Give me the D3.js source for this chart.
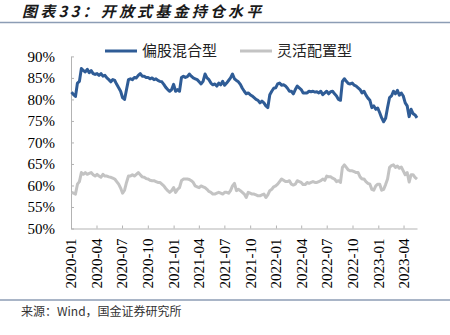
<!DOCTYPE html>
<html>
<head>
<meta charset="utf-8">
<script src="https://cdn.jsdelivr.net/npm/d3@7"></script>
<style>
  html, body { margin: 0; padding: 0; background: #fff; }
  svg { display: block; }
</style>
</head>
<body>
<svg id="chart" width="450" height="335"></svg>
<script>
// Weekly observation dates (Fridays)
const dates = [
  "2020-01-03","2020-01-10","2020-01-17","2020-01-24","2020-01-31","2020-02-07","2020-02-14","2020-02-21","2020-02-28",
  "2020-03-06","2020-03-13","2020-03-20","2020-03-27","2020-04-03","2020-04-10","2020-04-17","2020-04-24",
  "2020-05-01","2020-05-08","2020-05-15","2020-05-22","2020-05-29","2020-06-05","2020-06-12","2020-06-19","2020-06-26",
  "2020-07-03","2020-07-10","2020-07-17","2020-07-24","2020-07-31","2020-08-07","2020-08-14","2020-08-21","2020-08-28",
  "2020-09-04","2020-09-11","2020-09-18","2020-09-25","2020-10-02","2020-10-09","2020-10-16","2020-10-23","2020-10-30",
  "2020-11-06","2020-11-13","2020-11-20","2020-11-27","2020-12-04","2020-12-11","2020-12-18","2020-12-25",
  "2021-01-01","2021-01-08","2021-01-15","2021-01-22","2021-01-29","2021-02-05","2021-02-12","2021-02-19","2021-02-26",
  "2021-03-05","2021-03-12","2021-03-19","2021-03-26","2021-04-02","2021-04-09","2021-04-16","2021-04-23","2021-04-30",
  "2021-05-07","2021-05-14","2021-05-21","2021-05-28","2021-06-04","2021-06-11","2021-06-18","2021-06-25",
  "2021-07-02","2021-07-09","2021-07-16","2021-07-23","2021-07-30","2021-08-06","2021-08-13","2021-08-20","2021-08-27",
  "2021-09-03","2021-09-10","2021-09-17","2021-09-24","2021-10-01","2021-10-08","2021-10-15","2021-10-22","2021-10-29",
  "2021-11-05","2021-11-12","2021-11-19","2021-11-26","2021-12-03","2021-12-10","2021-12-17","2021-12-24","2021-12-31",
  "2022-01-07","2022-01-14","2022-01-21","2022-01-28","2022-02-04","2022-02-11","2022-02-18","2022-02-25",
  "2022-03-04","2022-03-11","2022-03-18","2022-03-25","2022-04-01","2022-04-08","2022-04-15","2022-04-22","2022-04-29",
  "2022-05-06","2022-05-13","2022-05-20","2022-05-27","2022-06-03","2022-06-10","2022-06-17","2022-06-24",
  "2022-07-01","2022-07-08","2022-07-15","2022-07-22","2022-07-29","2022-08-05","2022-08-12","2022-08-19","2022-08-26",
  "2022-09-02","2022-09-09","2022-09-16","2022-09-23","2022-09-30","2022-10-07","2022-10-14","2022-10-21","2022-10-28",
  "2022-11-04","2022-11-11","2022-11-18","2022-11-25","2022-12-02","2022-12-09","2022-12-16","2022-12-23","2022-12-30",
  "2023-01-06","2023-01-13","2023-01-20","2023-01-27","2023-02-03","2023-02-10","2023-02-17","2023-02-24",
  "2023-03-03","2023-03-10","2023-03-17","2023-03-24","2023-03-31","2023-04-07","2023-04-14","2023-04-21","2023-04-28",
  "2023-05-05","2023-05-12","2023-05-19"
];

// 偏股混合型 equity position (%)
const mixedEquity = [
  81.7,81.1,80.7,83.8,84.2,87.2,86.7,86.4,87.0,86.2,86.7,86.0,85.8,86.0,85.6,86.0,85.4,85.6,85.0,84.6,
  84.1,84.6,84.4,83.5,82.7,81.9,80.4,80.0,82.3,84.6,84.8,84.6,85.1,85.0,85.6,86.0,85.4,85.4,85.1,85.1,
  84.8,85.0,84.6,84.8,84.4,84.2,84.1,83.5,82.8,82.3,81.9,82.3,83.5,81.9,82.3,81.9,85.1,85.4,85.1,85.3,
  85.9,85.4,85.0,84.8,84.6,84.1,83.6,84.2,85.9,85.0,84.6,83.8,83.4,83.6,83.1,83.8,83.4,84.2,83.3,83.8,
  84.4,85.0,85.9,84.8,84.4,84.1,83.5,82.6,81.9,81.3,81.5,81.1,80.8,80.4,80.0,79.8,79.2,79.6,79.2,78.5,
  78.1,81.1,81.9,82.6,82.7,83.6,83.8,83.3,83.4,83.1,82.6,81.9,81.9,81.3,82.3,83.1,82.7,82.3,81.5,81.5,
  81.5,81.9,81.8,81.9,81.7,81.8,81.5,81.9,81.1,81.5,81.9,81.3,81.8,81.9,81.3,80.8,80.0,79.8,84.2,84.8,
  84.2,83.7,83.6,83.8,83.3,83.1,82.7,82.3,81.5,81.9,81.0,80.3,79.8,78.1,78.5,77.7,78.0,76.9,75.7,74.8,
  75.6,78.1,80.4,80.8,81.9,81.3,82.1,81.0,81.5,80.8,79.2,78.5,76.0,77.7,76.7,76.4,75.7
];

// 灵活配置型 equity position (%)
const flexibleAlloc = [
  58.4,58.2,58.0,60.3,60.9,63.0,62.6,63.0,62.6,62.8,63.0,62.5,62.2,62.6,62.2,61.9,62.6,62.2,62.2,62.0,
  61.9,61.7,61.5,60.9,60.3,59.4,58.2,58.9,60.7,62.2,62.2,62.5,62.2,62.6,63.0,62.5,62.0,61.9,61.6,61.5,
  61.2,61.1,61.1,60.9,60.7,60.7,60.3,59.9,59.3,58.8,58.4,58.8,59.5,58.4,59.1,59.5,61.1,61.5,61.5,61.5,
  61.4,61.1,60.7,59.9,59.7,59.5,59.9,59.7,59.5,59.1,58.6,58.4,58.0,58.0,58.2,58.4,58.2,58.0,58.4,58.4,
  58.2,58.8,59.9,60.5,58.8,59.1,58.8,58.4,58.0,57.2,58.4,58.2,58.0,58.0,57.8,57.6,57.6,57.8,58.0,57.2,
  57.8,58.8,59.1,59.7,59.9,60.3,60.9,61.5,61.2,60.9,60.9,61.1,60.3,60.1,60.3,61.1,60.9,60.7,60.2,60.2,
  60.7,60.5,60.7,60.9,60.7,60.7,60.9,61.1,61.5,61.2,62.2,62.0,62.0,61.7,61.5,60.9,61.1,60.7,64.2,64.8,
  64.2,63.6,63.4,63.4,63.2,63.0,63.0,62.0,61.5,61.5,60.9,60.5,60.3,59.1,58.9,59.9,60.3,60.3,58.9,59.1,
  60.2,61.5,64.2,64.6,64.8,64.2,64.5,64.0,64.3,63.4,62.5,63.0,60.8,62.5,62.5,61.9,61.5
];

const seriesNames = ["偏股混合型", "灵活配置型"];
const yTickValues = [50, 55, 60, 65, 70, 75, 80, 85, 90];
const xTickLabels = ["2020-01","2020-04","2020-07","2020-10","2021-01","2021-04","2021-07",
                     "2021-10","2022-01","2022-04","2022-07","2022-10","2023-01","2023-04"];
const domainStart = "2020-01-01";
const domainEnd = "2023-05-19";

const titleText = "图表33：开放式基金持仓水平";
const sourceText = "来源：Wind，国金证券研究所";

const colors = ["#2f5c96", "#c3c3c3"];
const serifFont = "'Liberation Serif', 'Times New Roman', serif";
const cjkFont = "'Noto Sans CJK SC', 'Noto Sans', sans-serif";

const svg = d3.select("#chart");
const parseDay = d3.timeParse("%Y-%m-%d");
const parseMonth = d3.timeParse("%Y-%m");

const plot = { left: 71, right: 417, top: 56.4, bottom: 228.5 };

const x = d3.scaleTime()
  .domain([parseDay(domainStart), parseDay(domainEnd)])
  .range([plot.left, plot.right]);
const y = d3.scaleLinear()
  .domain([50, 90])
  .range([plot.bottom, plot.top]);

// Header
svg.append("text")
  .attr("x", 22).attr("y", 16.5)
  .attr("font-family", cjkFont)
  .attr("font-size", 15)
  .attr("font-weight", "bold")
  .attr("font-style", "italic")
  .attr("letter-spacing", 3.2)
  .attr("fill", "#1a1a1a")
  .text(titleText);
svg.append("line")
  .attr("x1", 0).attr("x2", 450).attr("y1", 22.5).attr("y2", 22.5)
  .attr("stroke", "#8c9db5").attr("stroke-width", 1.5);

// Footer
svg.append("line")
  .attr("x1", 0).attr("x2", 450).attr("y1", 300).attr("y2", 300)
  .attr("stroke", "#8c9db5").attr("stroke-width", 1.5);
svg.append("text")
  .attr("x", 21).attr("y", 316)
  .attr("font-family", cjkFont)
  .attr("font-size", 12)
  .attr("fill", "#333")
  .text(sourceText);

// Y axis
const yAxis = d3.axisLeft(y)
  .tickValues(yTickValues)
  .tickSizeInner(-3).tickSizeOuter(0)
  .tickPadding(16)
  .tickFormat(d => d + "%");
const gy = svg.append("g").attr("transform", `translate(${plot.left},0)`).call(yAxis);
gy.selectAll("path.domain, line").attr("stroke", "#b3b3b3").attr("stroke-width", 1);
gy.selectAll("text")
  .attr("font-family", serifFont).attr("font-size", 15).attr("fill", "#000");

// X axis
const xAxis = d3.axisBottom(x)
  .tickValues(xTickLabels.map(parseMonth))
  .tickSizeInner(-3).tickSizeOuter(0)
  .tickFormat(d3.timeFormat("%Y-%m"));
const gx = svg.append("g").attr("transform", `translate(0,${plot.bottom})`).call(xAxis);
gx.selectAll("path.domain, line").attr("stroke", "#b3b3b3").attr("stroke-width", 1);
gx.selectAll("text")
  .attr("font-family", serifFont).attr("font-size", 15).attr("fill", "#000")
  .attr("transform", "rotate(-90)")
  .attr("text-anchor", "end")
  .attr("x", -10).attr("y", 0).attr("dy", "0.33em");

// Series lines
const rows = dates.map((d, i) => ({ date: parseDay(d), a: mixedEquity[i], b: flexibleAlloc[i] }));
const lineA = d3.line().x(d => x(d.date)).y(d => y(d.a));
const lineB = d3.line().x(d => x(d.date)).y(d => y(d.b));

svg.append("path").datum(rows)
  .attr("d", lineB).attr("fill", "none")
  .attr("stroke", colors[1]).attr("stroke-width", 3).attr("stroke-linejoin", "round");
svg.append("path").datum(rows)
  .attr("d", lineA).attr("fill", "none")
  .attr("stroke", colors[0]).attr("stroke-width", 3).attr("stroke-linejoin", "round");

// Legend
const legendItems = [
  { name: seriesNames[0], color: colors[0], x: 105 },
  { name: seriesNames[1], color: colors[1], x: 240 }
];
const lg = svg.append("g").selectAll("g").data(legendItems).join("g")
  .attr("transform", d => `translate(${d.x},51)`);
lg.append("line").attr("x1", 0).attr("x2", 32).attr("y1", 0).attr("y2", 0)
  .attr("stroke", d => d.color).attr("stroke-width", 3);
lg.append("text").attr("x", 37).attr("y", 0).attr("dy", "0.36em")
  .attr("font-family", cjkFont).attr("font-size", 15).attr("fill", "#222")
  .text(d => d.name);
</script>
</body>
</html>
